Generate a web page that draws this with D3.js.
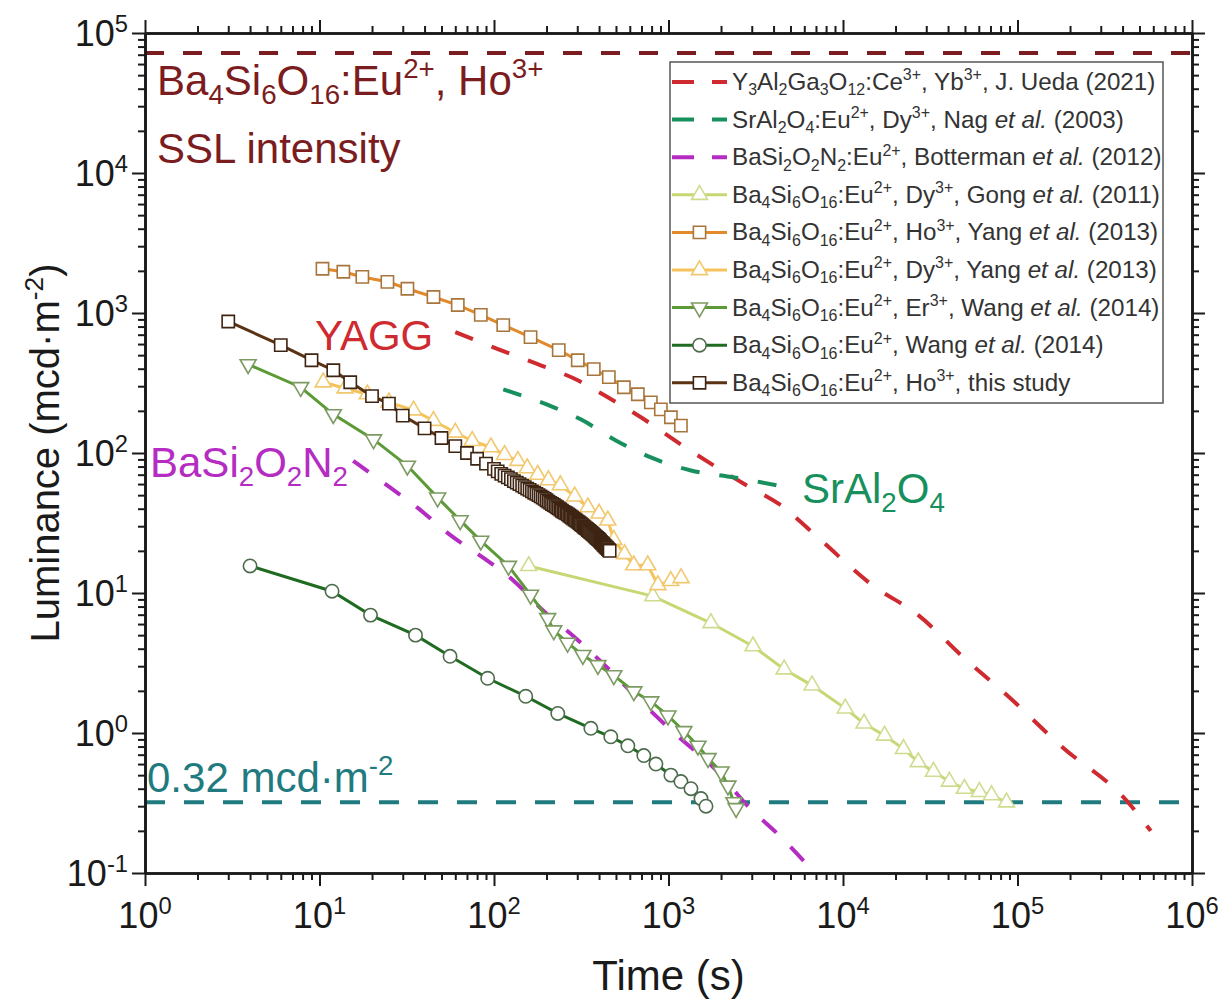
<!DOCTYPE html>
<html><head><meta charset="utf-8">
<script src="https://cdn.jsdelivr.net/npm/d3@7"></script>
<style>
body{margin:0;background:#fff}
svg{display:block}
text{font-family:"Liberation Sans",Arial,Helvetica,sans-serif}
</style>
</head><body>
<svg id="c" width="1218" height="1002"></svg>
<script>
// ---------- data (time in s, luminance in mcd/m2) ----------
const xTickVals = [1, 10, 100, 1000, 10000, 100000, 1000000];
const xTickLabels = ["10^{0}", "10^{1}", "10^{2}", "10^{3}", "10^{4}", "10^{5}", "10^{6}"];
const yTickVals = [0.1, 1, 10, 100, 1000, 10000, 100000];
const yTickLabels = ["10^{-1}", "10^{0}", "10^{1}", "10^{2}", "10^{3}", "10^{4}", "10^{5}"];

const sslLevel = 72000;
const visLimit = 0.32;

const yaggT = [60, 109, 178, 302, 449, 695, 1178, 2780, 4360, 7210, 14700, 27000, 49600, 91000, 177000, 430000, 580000];
const yaggL = [731, 543, 431, 331, 250, 180, 115, 59, 42.7, 24.8, 11.4, 6.95, 3.42, 1.77, 0.81, 0.32, 0.2];

const srAlT = [113, 220, 314, 499, 792, 1345, 2370, 4420];
const srAlL = [285, 212, 174, 123, 93, 75, 67, 58];

const basiT = [15.6, 22.3, 36.4, 56, 87, 130, 193, 294, 449, 608, 1032, 2000, 2780, 4420, 7000];
const basiL = [88, 63.6, 40.7, 26, 17.8, 12.2, 7.4, 4.76, 2.9, 1.98, 1.05, 0.5, 0.31, 0.18, 0.098];

const gongT = [158, 813, 1750, 3050, 4600, 6650, 10300, 13200, 17300, 22200, 27000, 33000, 40700, 49600, 60500, 71000, 86500];
const gongL = [15.6, 9.5, 6.1, 4.17, 2.85, 2.19, 1.5, 1.17, 0.96, 0.77, 0.62, 0.53, 0.45, 0.40, 0.38, 0.36, 0.32];

const yangHoT = [10.4, 13.7, 17.6, 24.5, 31.9, 45, 62, 84, 113, 162, 235, 302, 373, 455, 555, 667, 792, 904, 1032, 1178];
const yangHoL = [2070, 1970, 1810, 1670, 1490, 1300, 1140, 970, 820, 673, 543, 460, 397, 348, 295, 263, 230, 205, 180, 157];

const yangDyT = [10.5, 14, 18.8, 25, 34.6, 45, 60, 75, 96, 115, 137, 155, 178, 205, 240, 290, 345, 400, 449, 486, 560, 632, 760, 870, 1030, 1180];
const yangDyL = [320, 290, 263, 230, 202, 170, 140, 122, 110, 97, 88, 78, 70, 64, 59, 49, 41, 37, 33, 24, 19, 15.8, 15.8, 11.4, 12.2, 12.8];

const erT = [3.9, 7.8, 12, 20.4, 31.9, 47.5, 64, 84, 121, 162, 203, 220, 264, 323, 394, 486, 633, 792, 993, 1225, 1475, 1685, 2000, 2190, 2370, 2440];
const erL = [430, 295, 189, 125, 81, 48, 33, 23.6, 15.6, 9.7, 6.6, 5.4, 4.4, 3.6, 3.05, 2.58, 1.98, 1.68, 1.33, 1.03, 0.81, 0.66, 0.53, 0.42, 0.32, 0.29];

const wangT = [4, 11.8, 19.6, 35.5, 56, 92, 152, 232, 359, 467, 585, 722, 847, 1032, 1178, 1345, 1535, 1640];
const wangL = [15.6, 10.3, 6.95, 5.0, 3.53, 2.46, 1.83, 1.38, 1.08, 0.94, 0.81, 0.69, 0.60, 0.50, 0.45, 0.40, 0.34, 0.30];

const studyT = [3, 6, 9, 12, 15, 20, 25, 30, 40, 50, 60, 70, 80, 90,
  100, 105, 110, 115, 120, 125, 130, 135, 140, 145, 150, 155, 160, 165, 170, 175, 180, 185, 190, 195,
  200, 205, 210, 215, 220, 225, 230, 235, 240, 245, 250, 255, 260, 265, 270, 275, 280, 285, 290, 295,
  300, 305, 310, 315, 320, 325, 330, 335, 340, 345, 350, 355, 360, 365, 370, 375, 380, 385, 390, 395,
  400, 405, 410, 415, 420, 425, 430, 435, 440, 445, 450, 455, 460];
const studyL = [870, 590, 460, 390, 320, 255, 225, 185, 150, 128, 112, 100, 91, 84,
  77, 74, 71, 69, 67, 65, 63, 61.5, 60, 58.5, 57, 55.7, 54.5, 53.2, 52, 51, 50, 49, 48, 47,
  46, 45, 44, 43.2, 42.5, 41.7, 41, 40.2, 39.5, 38.7, 38, 37.5, 37, 36.4, 35.8, 35.2, 34.6, 34, 33.5, 33,
  32.5, 32, 31.5, 31, 30.5, 30, 29.5, 29.1, 28.7, 28.2, 27.8, 27.4, 27, 26.6, 26.2, 25.8, 25.4, 25, 24.7, 24.3,
  24, 23.6, 23.2, 22.8, 22.5, 22.1, 21.8, 21.5, 21.2, 20.9, 20.6, 20.3, 20];

const legendLabels = [
  "Y_{3}Al_{2}Ga_{3}O_{12}:Ce^{3+}, Yb^{3+}, J. Ueda (2021)",
  "SrAl_{2}O_{4}:Eu^{2+}, Dy^{3+}, Nag *et al.* (2003)",
  "BaSi_{2}O_{2}N_{2}:Eu^{2+}, Botterman *et al.* (2012)",
  "Ba_{4}Si_{6}O_{16}:Eu^{2+}, Dy^{3+}, Gong *et al.* (2011)",
  "Ba_{4}Si_{6}O_{16}:Eu^{2+}, Ho^{3+}, Yang *et al.* (2013)",
  "Ba_{4}Si_{6}O_{16}:Eu^{2+}, Dy^{3+}, Yang *et al.* (2013)",
  "Ba_{4}Si_{6}O_{16}:Eu^{2+}, Er^{3+}, Wang *et al.* (2014)",
  "Ba_{4}Si_{6}O_{16}:Eu^{2+}, Wang *et al.* (2014)",
  "Ba_{4}Si_{6}O_{16}:Eu^{2+}, Ho^{3+}, this study"
];

// ---------- styling ----------
const series = [
  {t: yaggT, L: yaggL, line: "#cf2a30", dash: true, smooth: true},
  {t: srAlT, L: srAlL, line: "#17905e", dash: true, smooth: true},
  {t: basiT, L: basiL, line: "#b52cc2", dash: true, smooth: true},
  {t: gongT, L: gongL, line: "#c6d874", mk: "triUp", edge: "#cfdc8e"},
  {t: yangHoT, L: yangHoL, line: "#e08a2c", mk: "square", edge: "#a8753c"},
  {t: yangDyT, L: yangDyL, line: "#f6c25a", mk: "triUp", edge: "#f2c86e"},
  {t: erT, L: erL, line: "#5c9a36", mk: "triDown", edge: "#7c9a62"},
  {t: wangT, L: wangL, line: "#1f6b22", mk: "circle", edge: "#4d6b4d"},
  {t: studyT, L: studyL, line: "#5a3214", mk: "square", edge: "#3e2412"}
];

const M = {l: 145, r: 1192, t: 33, b: 873};
const x = d3.scaleLog().domain([1, 1e6]).range([M.l, M.r]);
const y = d3.scaleLog().domain([0.1, 1e5]).range([M.b, M.t]);
const svg = d3.select("#c");

// rich text parser: _{sub} ^{sup} *italic*
function rich(sel, str, fs) {
  const parts = str.match(/(_\{[^}]*\}|\^\{[^}]*\}|\*[^*]*\*|[^_^*]+)/g);
  let cur = 0;
  parts.forEach(p => {
    let txt = p, off = 0, size = fs, ital = false;
    if (p.startsWith("_{")) { txt = p.slice(2, -1); off = 0.22 * fs; size = fs * 0.66; }
    else if (p.startsWith("^{")) { txt = p.slice(2, -1); off = -0.4 * fs; size = fs * 0.66; }
    else if (p.startsWith("*")) { txt = p.slice(1, -1); ital = true; }
    const ts = sel.append("tspan").text(txt).attr("font-size", size).attr("dy", off - cur);
    if (ital) ts.attr("font-style", "italic");
    cur = off;
  });
}

// clip
svg.append("defs").append("clipPath").attr("id", "clip")
  .append("rect").attr("x", M.l).attr("y", M.t).attr("width", M.r - M.l).attr("height", M.b - M.t);
const plot = svg.append("g").attr("clip-path", "url(#clip)");

// reference dashed horizontals
plot.append("line").attr("x1", M.l).attr("x2", M.r).attr("y1", y(sslLevel)).attr("y2", y(sslLevel))
  .attr("stroke", "#7b1c20").attr("stroke-width", 4).attr("stroke-dasharray", "19,19");
plot.append("line").attr("x1", M.l).attr("x2", M.r).attr("y1", y(visLimit)).attr("y2", y(visLimit))
  .attr("stroke", "#1f7b7f").attr("stroke-width", 4).attr("stroke-dasharray", "20,19");

function markPath(type) {
  if (type === "square") return d3.symbol().type(d3.symbolSquare).size(150)();
  if (type === "circle") return d3.symbol().type(d3.symbolCircle).size(140)();
  return d3.symbol().type(d3.symbolTriangle).size(110)();
}

series.forEach(s => {
  const pts = s.t.map((t, i) => [t, s.L[i]]);
  const gen = d3.line().x(d => x(d[0])).y(d => y(d[1]));
  if (s.smooth) gen.curve(d3.curveMonotoneX);
  plot.append("path").datum(pts).attr("d", gen).attr("fill", "none")
    .attr("stroke", s.line).attr("stroke-width", s.dash ? 4 : 3)
    .attr("stroke-dasharray", s.dash ? "19,20" : null);
  if (s.mk) {
    plot.selectAll(null).data(pts).enter().append("path")
      .attr("d", markPath(s.mk))
      .attr("transform", d => `translate(${x(d[0])},${y(d[1])})` + (s.mk === "triDown" ? " rotate(180)" : ""))
      .attr("fill", "#fff").attr("stroke", s.edge).attr("stroke-width", 1.6);
  }
});

// ---------- axes ----------
const minors = [];
for (let e = -1; e < 6; e++) for (let k = 2; k <= 9; k++) minors.push(k * Math.pow(10, e));
const xMin = minors.filter(v => v > 1 && v < 1e6);
const yMin = minors.filter(v => v > 0.1 && v < 1e5);

function styleAxis(g) {
  g.select(".domain").attr("stroke", "#1a1a1a").attr("stroke-width", 2.6);
  g.selectAll(".tick line").attr("stroke", "#1a1a1a").attr("stroke-width", 2);
}
const axes = [
  [d3.axisBottom(x), `translate(0,${M.b})`, xTickVals, xMin],
  [d3.axisTop(x), `translate(0,${M.t})`, xTickVals, xMin],
  [d3.axisLeft(y), `translate(${M.l},0)`, yTickVals, yMin],
  [d3.axisRight(y), `translate(${M.r},0)`, yTickVals, yMin]
];
axes.forEach(([ax, tr, maj, mn]) => {
  svg.append("g").attr("transform", tr)
    .call(ax.tickValues(mn).tickSize(7).tickSizeOuter(0).tickFormat(""))
    .call(styleAxis);
  svg.append("g").attr("transform", tr)
    .call(ax.tickValues(maj).tickSize(13).tickSizeOuter(0).tickFormat(""))
    .call(styleAxis);
});

// tick labels
xTickVals.forEach((v, i) => {
  const t = svg.append("text").attr("x", x(v)).attr("y", 928).attr("text-anchor", "middle")
    .attr("font-size", 36).attr("fill", "#1a1a1a");
  rich(t, xTickLabels[i], 36);
});
yTickVals.forEach((v, i) => {
  const t = svg.append("text").attr("x", 128).attr("y", y(v) + 13).attr("text-anchor", "end")
    .attr("font-size", 36).attr("fill", "#1a1a1a");
  rich(t, yTickLabels[i], 36);
});

// axis titles
svg.append("text").attr("x", (M.l + M.r) / 2).attr("y", 990).attr("text-anchor", "middle")
  .attr("font-size", 42).attr("fill", "#1a1a1a").text("Time (s)");
const yt = svg.append("text").attr("transform", `translate(59,${(M.t + M.b) / 2}) rotate(-90)`)
  .attr("text-anchor", "middle").attr("font-size", 40).attr("fill", "#1a1a1a");
rich(yt, "Luminance (mcd·m^{-2})", 40);

// annotations
const ann = [
  ["Ba_{4}Si_{6}O_{16}:Eu^{2+}, Ho^{3+}", 157, 95, "#7b1c20"],
  ["SSL intensity", 157, 163, "#7b1c20"],
  ["YAGG", 315, 350, "#cf2a30"],
  ["BaSi_{2}O_{2}N_{2}", 150, 477, "#b52cc2"],
  ["SrAl_{2}O_{4}", 802, 503, "#17905e"],
  ["0.32 mcd·m^{-2}", 147, 792, "#1f7b7f"]
];
ann.forEach(([s, ax_, ay, c]) => {
  const t = svg.append("text").attr("x", ax_).attr("y", ay).attr("font-size", 42).attr("fill", c);
  rich(t, s, 42);
});

// ---------- legend ----------
const lg = svg.append("g");
lg.append("rect").attr("x", 670).attr("y", 62).attr("width", 493).attr("height", 341)
  .attr("fill", "#fff").attr("stroke", "#555").attr("stroke-width", 1.5);
series.forEach((s, i) => {
  const cy = 82 + i * 37.6;
  lg.append("line").attr("x1", 672).attr("x2", 727).attr("y1", cy).attr("y2", cy)
    .attr("stroke", s.line).attr("stroke-width", s.dash ? 4 : 3)
    .attr("stroke-dasharray", s.dash ? "22,18" : null);
  if (s.mk) {
    lg.append("path").attr("d", markPath(s.mk))
      .attr("transform", `translate(699.5,${cy})` + (s.mk === "triDown" ? " rotate(180)" : ""))
      .attr("fill", "#fff").attr("stroke", s.edge).attr("stroke-width", 1.6);
  }
  const t = lg.append("text").attr("x", 732).attr("y", cy + 8).attr("font-size", 24.2).attr("fill", "#333");
  rich(t, legendLabels[i], 24.2);
});
</script>
</body></html>
